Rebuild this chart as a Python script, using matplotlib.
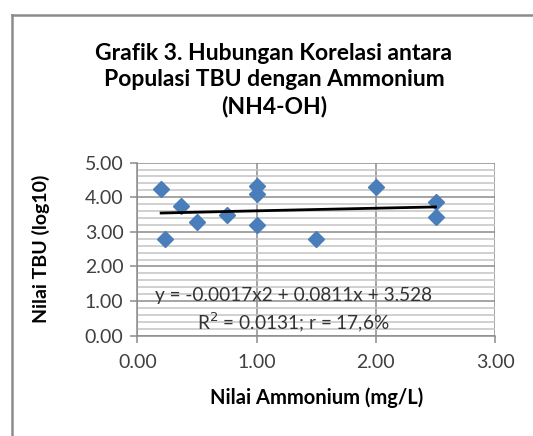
import numpy as np
import matplotlib
matplotlib.use("Agg")
import matplotlib.pyplot as plt
from matplotlib.ticker import MultipleLocator, FormatStrFormatter
from matplotlib.lines import Line2D

# data
ammonium = [0.20, 0.23, 0.37, 0.50, 0.75, 1.00, 1.00, 1.00, 1.50, 2.00, 2.50, 2.50]
tbu = [4.23, 2.78, 3.76, 3.29, 3.48, 4.33, 4.10, 3.20, 2.79, 4.29, 3.87, 3.44]
# trendline coefficients from the chart label
coef = [-0.0017, 0.0811, 3.528]

plt.rcParams['font.family'] = ['Lato', 'DejaVu Sans']

fig = plt.figure(figsize=(5.33, 4.36), dpi=100)
ax = fig.add_axes([0.2576, 0.230, 0.6714, 0.397])

# chart frame (left and top edges visible)
fig.add_artist(Line2D([12/533, 12/533], [0, 1 - 15/436], color="#8c8c8c", lw=1.8,
                      transform=fig.transFigure))
fig.add_artist(Line2D([12/533, 1], [1 - 15/436, 1 - 15/436], color="#8c8c8c", lw=1.8,
                      transform=fig.transFigure))

ax.set_xlim(0, 3)
ax.set_ylim(0, 5)
ax.xaxis.set_major_locator(MultipleLocator(1))
ax.yaxis.set_major_locator(MultipleLocator(1))
ax.yaxis.set_minor_locator(MultipleLocator(0.2))
ax.xaxis.set_major_formatter(FormatStrFormatter("%.2f"))
ax.yaxis.set_major_formatter(FormatStrFormatter("%.2f"))

ax.grid(True, which="minor", axis="y", color="#c4c4c4", lw=1.1)
ax.grid(True, which="major", axis="both", color="#8c8c8c", lw=1.1)
ax.set_axisbelow(True)

for s in ["top", "right"]:
    ax.spines[s].set_visible(False)
for s in ["left", "bottom"]:
    ax.spines[s].set_color("#8c8c8c")
    ax.spines[s].set_linewidth(1.1)
ax.tick_params(which="major", direction="out", length=5, color="#8c8c8c", width=1.1,
               labelsize=14, labelcolor="#404040", pad=5)
ax.tick_params(which="minor", length=0)
ax.tick_params(axis="x", pad=8)

ax.plot(ammonium, tbu, linestyle="none", marker="D", markersize=8.5,
        color="#4a7ebb", zorder=3)

xs = np.linspace(min(ammonium), max(ammonium), 50)
ax.plot(xs, np.polyval(coef, xs), color="black", lw=2.0, zorder=4)

ax.text(1.31, 1.15, "y = -0.0017x2 + 0.0811x + 3.528", ha="center", va="center",
        fontsize=13.7, color="#333333", zorder=5)
ax.text(1.31, 0.40, "R$^2$ = 0.0131; r = 17,6%", ha="center", va="center",
        fontsize=13.7, color="#333333", zorder=5)

ax.set_xlabel("Nilai Ammonium (mg/L)", fontsize=14.5, fontweight="bold", labelpad=12)
ax.set_ylabel("Nilai TBU (log10)", fontsize=14, fontweight="bold", labelpad=25)

fig.text(0.514, 1 - 80/436,
         "Grafik 3. Hubungan Korelasi antara\nPopulasi TBU dengan Ammonium\n(NH4-OH)",
         ha="center", va="center", fontsize=16.5, fontweight="bold", linespacing=1.32)

fig.savefig("out.png", dpi=100)
